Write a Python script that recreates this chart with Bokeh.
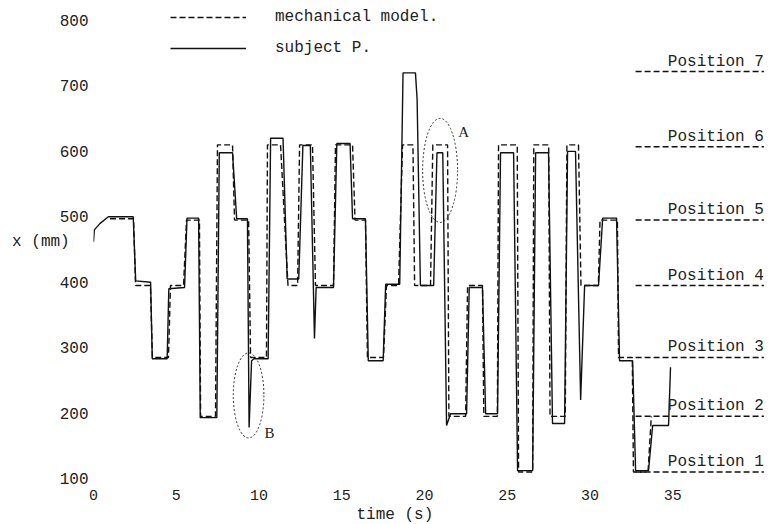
from bokeh.plotting import figure
from bokeh.models import (ColumnDataSource, Range1d, FixedTicker, Legend,
                          LegendItem, Title)
from bokeh.core.properties import value
from bokeh.embed import file_html
from bokeh.resources import INLINE

# ---------------- data ----------------
subject_t = [0.0, 0.05, 0.4, 0.9, 2.4, 2.55, 3.45, 3.55, 4.45, 4.55, 5.5, 5.65,
             6.35, 6.45, 7.45, 7.6, 8.4, 8.65, 9.3, 9.4, 9.55, 9.7, 10.55, 10.7,
             11.45, 11.7, 12.4, 12.65, 13.1, 13.35, 13.45, 14.5, 14.7, 15.5,
             15.65, 16.43, 16.6, 17.5, 17.65, 18.5, 18.7, 19.45, 19.55, 19.75,
             20.55, 20.75, 21.1, 21.33, 21.57, 22.54, 22.7, 23.5, 23.69, 24.41,
             24.59, 25.38, 25.62, 26.53, 26.71, 27.49, 27.73, 28.46, 28.64,
             29.12, 29.43, 29.67, 30.51, 30.76, 31.6, 31.78, 32.57, 32.75,
             33.53, 33.78, 34.74, 34.86]
subject_x = [462, 480, 490, 500, 500, 402, 400, 283, 283, 390, 392, 498,
             498, 193, 193, 598, 598, 497, 497, 178, 280, 283, 283, 620,
             620, 405, 405, 609, 609, 314, 392, 392, 612, 612,
             497, 497, 280, 280, 397, 397, 720, 720, 680, 395,
             395, 598, 598, 181, 199, 199, 392, 392, 199, 199,
             598, 598, 112, 112, 598, 598, 184, 184, 600,
             600, 220, 395, 395, 498, 498, 280, 280, 112,
             112, 181, 181, 270]

model_t = [1.0, 2.42, 2.54, 3.44, 3.56, 4.53, 4.65, 5.44, 5.62, 6.4, 6.47, 7.37,
           7.49, 8.4, 8.52, 9.37, 9.49, 10.45, 10.51, 11.3, 11.75, 12.33, 12.45,
           13.23, 13.41, 14.5, 14.62, 15.65, 15.8, 16.43, 16.55, 17.52, 17.7,
           18.43, 18.67, 19.3, 19.4, 20.36, 20.5, 21.39, 21.47, 22.48, 22.6,
           23.5, 23.58, 24.4, 24.47, 25.6, 25.68, 26.53, 26.6, 27.5, 27.58,
           28.5, 28.6, 29.3, 29.45, 30.5, 30.6, 31.65, 31.72, 32.55, 32.62,
           33.5, 33.7]
model_x = [497, 497, 395, 395, 285, 285, 395, 395, 495, 495, 195, 195,
           610, 610, 495, 495, 285, 285, 610, 610, 395, 395, 610,
           610, 395, 395, 610, 610, 495, 495, 285, 285, 395,
           395, 610, 610, 395, 395, 610, 610, 195, 195, 395,
           395, 195, 195, 610, 610, 110, 110, 610, 610, 195,
           195, 610, 610, 395, 395, 495, 495, 285, 285, 110,
           110, 195]

position_levels = [110, 195, 285, 395, 495, 607, 722]
position_labels = ["Position 1", "Position 2", "Position 3", "Position 4",
                   "Position 5", "Position 6", "Position 7"]

x_ticks = [0, 5, 10, 15, 20, 25, 30, 35]
y_ticks = [100, 200, 300, 400, 500, 600, 700, 800]

# highlighted regions (centre time, centre x, width s, height mm)
region_names = ["A", "B"]
region_t = [20.94, 9.37]
region_x = [571, 227]
region_w = [2.11, 1.85]
region_h = [159, 130]
region_label_t = [22.36, 10.63]
region_label_x = [629, 170]

# ---------------- layout constants ----------------
POS_LINE_START = 32.75
POS_LINE_END = 40.5
MONO = "Liberation Mono"
INK = "#222222"

p = figure(width=776, height=524, output_backend="svg", toolbar_location=None,
           x_range=Range1d(0, 40.9), y_range=Range1d(100, 823),
           min_border_left=93, min_border_right=6, min_border_top=5,
           min_border_bottom=0)
p.outline_line_color = None
p.xgrid.visible = False
p.ygrid.visible = False
p.background_fill_color = "white"

# axes
for ax in (p.xaxis[0], p.yaxis[0]):
    ax.axis_line_color = None
    ax.major_tick_line_color = None
    ax.minor_tick_line_color = None
    ax.major_tick_out = 0
    ax.major_tick_in = 0
    ax.minor_tick_out = 0
    ax.minor_tick_in = 0
    ax.major_label_text_font = MONO
    ax.major_label_text_color = INK
    ax.axis_label_text_font = MONO
    ax.axis_label_text_font_style = "normal"
    ax.axis_label_text_font_size = "16px"
    ax.axis_label_text_color = INK

p.xaxis.ticker = FixedTicker(ticks=x_ticks)
p.xaxis.major_label_text_font_size = "15px"
p.xaxis.major_label_standoff = 11

p.yaxis.ticker = FixedTicker(ticks=y_ticks)
p.yaxis.major_label_text_font_size = "16px"
p.yaxis.major_label_standoff = 5
p.yaxis.axis_label = "x (mm)"
try:
    p.yaxis.axis_label_orientation = "horizontal"
except Exception:
    pass
p.yaxis.axis_label_standoff = -13

# x-axis title, placed under the 0-35 s part of the axis
p.add_layout(Title(text="time (s)", align="left", offset=263,
                   text_font=MONO, text_font_size="16px",
                   text_font_style="normal", text_color=INK,
                   standoff=2), "below")

# traces
subj_src = ColumnDataSource(dict(t=subject_t, x=subject_x))
model_src = ColumnDataSource(dict(t=model_t, x=model_x))
r_model = p.line("t", "x", source=model_src, line_color="#111111",
                 line_width=1.4, line_dash="6 3")
r_subj = p.line("t", "x", source=subj_src, line_color="#111111",
                line_width=1.4)

# position reference lines and labels
pos_src = ColumnDataSource(dict(
    x0=[POS_LINE_START] * len(position_levels),
    x1=[POS_LINE_END] * len(position_levels),
    y=position_levels, label=position_labels))
p.segment(x0="x0", y0="y", x1="x1", y1="y", source=pos_src,
          line_color="#111111", line_width=1.5, line_dash="6 3")
p.text(x="x1", y="y", text="label", source=pos_src, text_align="right",
       text_baseline="bottom", y_offset=-1, text_font=value(MONO),
       text_font_size="16px", text_color=INK)

# highlighted regions A and B
reg_src = ColumnDataSource(dict(t=region_t, x=region_x, w=region_w,
                                h=region_h, lt=region_label_t,
                                lx=region_label_x, name=region_names))
p.ellipse(x="t", y="x", width="w", height="h", source=reg_src,
          fill_color=None, line_color="#333333", line_width=1,
          line_dash="2 2")
p.text(x="lt", y="lx", text="name", source=reg_src, text_align="center",
       text_baseline="middle", text_font=value("Liberation Serif"),
       text_font_size="15px", text_color=INK)

# legend
legend = Legend(items=[LegendItem(label="mechanical model.", renderers=[r_model]),
                       LegendItem(label="subject P.", renderers=[r_subj])],
                location=(77, 420), glyph_width=76, glyph_height=20,
                label_height=20, label_standoff=29, spacing=11, padding=0,
                margin=0, border_line_color=None, background_fill_alpha=0,
                label_text_font=MONO, label_text_font_size="16px",
                label_text_color=INK)
p.add_layout(legend)

open("out.html", "w").write(file_html(p, INLINE))
